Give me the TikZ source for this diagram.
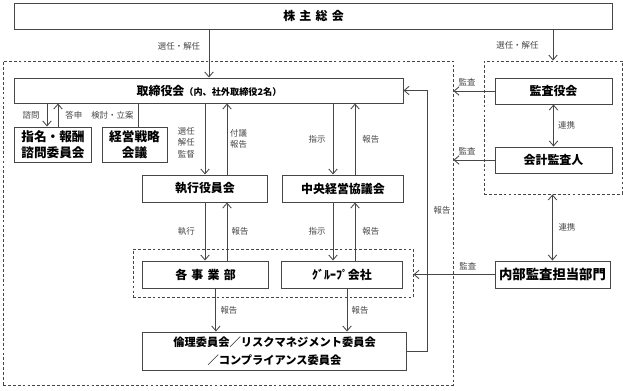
\documentclass[tikz,border=0pt]{standalone}
\usepackage{fontspec}
\setmainfont{Noto Sans CJK JP}
\usepackage{tikz}
\usetikzlibrary{arrows.meta,positioning,calc}
\definecolor{linegray}{RGB}{70,70,70}

\begin{document}
\begin{tikzpicture}[x=0.025cm, y=-0.025cm,
  pbox/.style={draw=linegray, line width=0.7pt, fill=white, inner sep=1pt,
    align=center, font=\bfseries\fontsize{8.5}{11}\selectfont},
  dbox/.style={draw=linegray, line width=0.6pt, dash pattern=on 2pt off 1.5pt,
    inner sep=0pt},
  arr/.style={-{Straight Barb[length=3.5pt,width=6pt]}, line width=0.6pt, linegray},
  darr/.style={{Straight Barb[length=3.5pt,width=6pt]}-{Straight Barb[length=3.5pt,width=6pt]},
    line width=0.6pt, linegray},
  lab/.style={font=\fontsize{6}{8.2}\selectfont, inner sep=2pt, align=center}
]
  \useasboundingbox (0,0) rectangle (623,390);

  % dashed groups
  \node[dbox, minimum width=11.25cm, minimum height=8.1cm] (kaisha) at (228,223) {};
  \node[dbox, minimum width=3.45cm, minimum height=3.325cm] (kansagrp) at (553,127.5) {};
  \node[dbox, minimum width=7cm, minimum height=1.2cm] (genba) at (273,273) {};

  % boxes
  \node[pbox, minimum width=14.925cm, minimum height=0.65cm] (kabu) at (313.5,16)
    {株\hspace{3pt}主\hspace{3pt}総\hspace{3pt}会};
  \node[pbox, minimum width=9.7cm, minimum height=0.625cm] (tori) at (209,90.5)
    {取締役会{\fontsize{6.5}{8}\selectfont（内、社外取締役2名）}};
  \node[pbox, minimum width=2.925cm, minimum height=0.65cm] (kansa) at (553.5,91) {監査役会};
  \node[pbox, minimum width=2.925cm, minimum height=0.65cm] (kaikei) at (553.5,160) {会計監査人};
  \node[pbox, minimum width=2.875cm, minimum height=0.675cm,
    font=\bfseries\fontsize{9.5}{11}\selectfont] (naibu) at (552.5,274.5) {内部監査担当部門};
  \node[pbox, minimum width=1.9cm, minimum height=0.875cm,
    font=\bfseries\fontsize{9}{11.5}\selectfont] (shimei) at (53,144.5) {指名・報酬\\諮問委員会};
  \node[pbox, minimum width=1.625cm, minimum height=0.875cm,
    font=\bfseries\fontsize{9}{11.5}\selectfont] (senryaku) at (134.5,144.5) {経営戦略\\会議};
  \node[pbox, minimum width=3.1cm, minimum height=0.675cm] (shikko) at (205,188.5) {執行役員会};
  \node[pbox, minimum width=3cm, minimum height=0.675cm] (chuo) at (343,188.5) {中央経営協議会};
  \node[pbox, minimum width=3.125cm, minimum height=0.675cm] (jigyo) at (205.5,274.5)
    {各\hspace{3pt}事\hspace{3pt}業\hspace{3pt}部};
  \node[pbox, minimum width=3cm, minimum height=0.675cm] (group) at (342,274.5) {ｸﾞﾙｰﾌﾟ会社};
  \node[pbox, minimum width=6.575cm, minimum height=0.95cm,
    font=\bfseries\fontsize{8}{12.5}\selectfont] (rinri) at (274.5,351)
    {倫理委員会／リスクマネジメント委員会\\／コンプライアンス委員会};

  % shareholders
  \draw[arr] (kabu.south -| tori.north) -- (tori.north)
    node[lab, pos=0.35, left=4pt] (l-sennin1) {選任・解任};
  \draw[arr] (kabu.south -| kansagrp.north) -- (kansagrp.north)
    node[lab, midway, left=8pt] (l-sennin2) {選任・解任};

  % audit
  \draw[arr] (kansa.west) -- (kansa.west -| kaisha.east)
    node[lab, pos=0.67, above=1pt] (l-kansa1) {監査};
  \draw[arr] (kaikei.west) -- (kaikei.west -| kaisha.east)
    node[lab, pos=0.67, above=1pt] (l-kansa2) {監査};
  \draw[arr] (naibu.west) -- (naibu.west -| genba.east)
    node[lab, pos=0.33, above=1pt] (l-kansa3) {監査};
  \draw[darr] (kansa) -- (kaikei) node[lab, midway, right=1pt] (l-renkei1) {連携};
  \draw[darr] (kansagrp.south -| naibu.north) -- (naibu.north)
    node[lab, midway, right=2pt] (l-renkei2) {連携};

  % board committees
  \draw[arr] ([xshift=-0.15cm]shimei.north |- tori.south) -- ([xshift=-0.15cm]shimei.north)
    node[lab, midway, left=3pt] (l-shimon) {諮問};
  \draw[arr] ([xshift=0.125cm]shimei.north) -- ([xshift=0.125cm]shimei.north |- tori.south)
    node[lab, midway, right=3pt] (l-toshin) {答申};
  \draw[linegray, line width=0.6pt] ([xshift=0.09cm]senryaku.north |- tori.south)
    -- ([xshift=0.09cm]senryaku.north)
    node[lab, midway, left=1pt] (l-kento) {検討・立案};

  % board <-> executives
  \draw[arr] (shikko.north |- tori.south) -- (shikko.north)
    node[lab, pos=0.55, left=5pt] (l-senkan) {選任\\解任\\監督};
  \draw[arr] ([xshift=0.55cm]shikko.north) -- ([xshift=0.55cm]shikko.north |- tori.south)
    node[lab, pos=0.5, right=0pt] (l-fugi) {付議\\報告};
  \draw[arr] ([xshift=-0.25cm]chuo.north |- tori.south) -- ([xshift=-0.25cm]chuo.north)
    node[lab, midway, left=3pt] (l-shiji1) {指示};
  \draw[arr] ([xshift=0.3cm]chuo.north) -- ([xshift=0.3cm]chuo.north |- tori.south)
    node[lab, midway, right=3pt] (l-hokoku1) {報告};

  % executives <-> operations
  \draw[arr] (shikko.south) -- (shikko.south |- jigyo.north)
    node[lab, midway, left=5pt] (l-shikko) {執行};
  \draw[arr] ([xshift=0.55cm]shikko.south |- jigyo.north) -- ([xshift=0.55cm]shikko.south)
    node[lab, midway, right=1pt] (l-hokoku2) {報告};
  \draw[arr] ([xshift=-0.25cm]chuo.south) -- ([xshift=-0.25cm]chuo.south |- group.north)
    node[lab, midway, left=3pt] (l-shiji2) {指示};
  \draw[arr] ([xshift=0.3cm]chuo.south |- group.north) -- ([xshift=0.3cm]chuo.south)
    node[lab, midway, right=3pt] (l-hokoku3) {報告};

  % reports to committees
  \draw[arr] ([xshift=0.26cm]jigyo.south) -- ([xshift=0.26cm]jigyo.south |- rinri.north)
    node[lab, pos=0.5, right=1pt] (l-hokoku4) {報告};
  \draw[arr] ([xshift=0.125cm]group.south) -- ([xshift=0.125cm]group.south |- rinri.north)
    node[lab, pos=0.5, right=1pt] (l-hokoku5) {報告};
  \draw[arr] (rinri.east) -- ++(21,0) |- (tori.east)
    node[lab, pos=0.27, right=2pt] (l-hokoku6) {報告};
\end{tikzpicture}
\end{document}
